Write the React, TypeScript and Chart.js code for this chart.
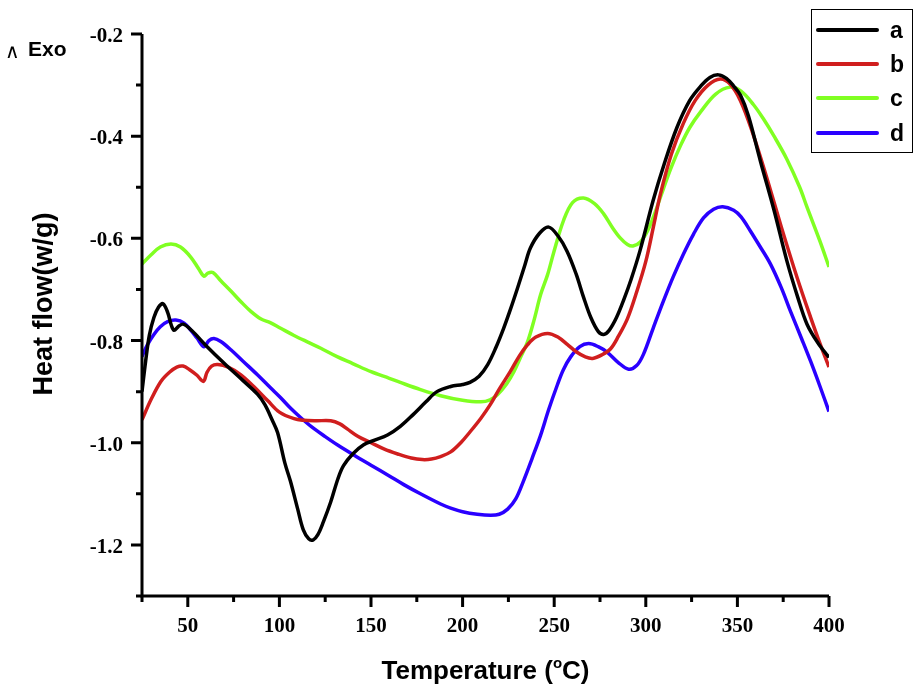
import React, { useEffect, useRef } from "react";
import { Chart, registerables } from "chart.js";

Chart.register(...registerables);

// ---- Data ----
const seriesLabels = ["a", "b", "c", "d"];
const seriesColors = ["#000000", "#D01E1E", "#80FF22", "#2A00FF"];

const xA = [25, 27, 29, 31.5, 34, 36.5, 39, 41, 42.5, 45, 47.5, 52, 60, 70, 80, 88, 92, 96, 99, 103, 106, 110, 113, 116, 118.5, 121, 124, 128, 132, 135, 140, 146, 152, 159, 166, 173, 180, 186, 193.5, 200, 204, 209, 213.7, 218, 222.4, 226, 230, 234, 237, 242, 247, 252, 257, 262, 266, 270, 274, 277, 280, 284, 288, 292, 297, 304, 310, 317, 324, 330, 335, 339.7, 344, 348, 351.7, 356, 362.5, 370, 377, 383, 388, 394, 400];
const yA = [-0.9, -0.84, -0.79, -0.755, -0.735, -0.728, -0.745, -0.77, -0.78, -0.772, -0.768, -0.78, -0.81, -0.845, -0.878, -0.905, -0.925, -0.955, -0.98, -1.04, -1.075, -1.13, -1.17, -1.188, -1.19, -1.18, -1.155, -1.116, -1.07, -1.045, -1.022, -1.004, -0.995, -0.985, -0.968, -0.945, -0.92, -0.9, -0.89, -0.886, -0.882, -0.87, -0.847, -0.815, -0.776, -0.74, -0.697, -0.652, -0.619, -0.59, -0.578, -0.595, -0.625, -0.67, -0.715, -0.755, -0.782, -0.788, -0.78, -0.755, -0.72, -0.68, -0.622, -0.526, -0.455, -0.383, -0.33, -0.302, -0.285, -0.28, -0.287, -0.302, -0.32, -0.36, -0.448, -0.545, -0.644, -0.716, -0.768, -0.805, -0.833];

const xB = [25, 30, 35.3, 40, 44, 47.4, 51, 55, 58.5, 60.5, 63, 66.4, 72, 79, 86, 93.7, 100, 108, 113, 120, 128, 133, 137, 143, 150, 157, 164.6, 172, 178, 183, 188, 193.5, 199, 204, 210, 215, 220, 226, 231, 235.5, 240, 246.4, 252, 257.3, 262, 267, 271, 276, 280.8, 285, 290, 295, 300, 304, 308, 314, 320.5, 327, 334, 340.7, 346, 351.6, 358, 366, 374, 382.7, 390, 395, 400];
const yB = [-0.955, -0.915, -0.88, -0.862, -0.852, -0.85, -0.857, -0.868, -0.88, -0.862, -0.85, -0.847, -0.852, -0.867, -0.89, -0.918, -0.94, -0.953, -0.956, -0.957, -0.957, -0.963, -0.973, -0.988, -1.0, -1.012, -1.022, -1.03, -1.033, -1.032, -1.027, -1.018, -1.0, -0.979, -0.952, -0.926, -0.895, -0.861, -0.83, -0.808, -0.793, -0.786, -0.793, -0.808, -0.822, -0.832, -0.835, -0.828, -0.816, -0.792, -0.757, -0.705, -0.645, -0.58, -0.513, -0.435, -0.375, -0.33, -0.3, -0.288, -0.298, -0.33, -0.39, -0.481, -0.578, -0.678, -0.755, -0.805, -0.852];

const xC = [25, 30, 35, 40.8, 46, 51.7, 56, 58.8, 61, 63.7, 68, 73.5, 79, 84.4, 90, 95, 100.7, 108, 115.5, 122.6, 131.8, 140, 150, 160, 166, 177, 188, 200, 210, 215, 219, 224, 228, 232, 235.5, 239, 242.6, 246.4, 249.7, 255, 260, 266, 272, 277, 282, 286, 290, 293, 297, 301, 305, 309.6, 314, 319, 324, 330, 338, 346, 352, 358.7, 364, 370, 377, 384, 388, 395, 400];
const yC = [-0.65, -0.632, -0.617, -0.611, -0.617, -0.637, -0.66, -0.674, -0.668, -0.667, -0.683, -0.703, -0.724, -0.743, -0.758, -0.765, -0.776, -0.79, -0.803, -0.815, -0.832, -0.845, -0.861, -0.874, -0.882, -0.896, -0.908, -0.917, -0.92, -0.916, -0.906, -0.885, -0.861, -0.83, -0.802, -0.76, -0.71, -0.671, -0.628, -0.566, -0.53, -0.521, -0.532, -0.552, -0.58, -0.599, -0.612, -0.615, -0.607, -0.585, -0.55, -0.503, -0.46, -0.418, -0.383, -0.352, -0.318, -0.304, -0.312, -0.338, -0.365, -0.4, -0.445, -0.5, -0.539, -0.605, -0.656];

const xD = [25, 28, 31.5, 35, 39, 43.5, 48, 51.7, 55, 58.8, 61.5, 64.3, 68, 73.5, 80, 88, 95, 100.7, 106, 111.7, 118, 125, 132, 140.6, 150, 160, 167.9, 177, 188, 193.5, 200, 208, 215.3, 220, 224.6, 229, 233, 238, 242.6, 247, 251.8, 255, 259, 264, 268.8, 274, 279, 285, 290.6, 295, 298.7, 304, 309.6, 315, 320.5, 326, 331.5, 337, 342, 348, 352, 357, 362, 368, 374, 379, 385, 390, 395, 400];
const yD = [-0.831, -0.808, -0.788, -0.773, -0.763, -0.76, -0.766, -0.78, -0.795, -0.812, -0.8, -0.796, -0.802, -0.818, -0.84, -0.867, -0.892, -0.912, -0.932, -0.951, -0.97, -0.988, -1.005, -1.024, -1.044, -1.065, -1.082, -1.1, -1.12, -1.128, -1.135, -1.14, -1.142, -1.14, -1.13, -1.11, -1.077, -1.03, -0.985, -0.935, -0.886, -0.857, -0.832, -0.812, -0.806, -0.812, -0.823, -0.843, -0.856, -0.849, -0.827, -0.776, -0.723, -0.675, -0.631, -0.592, -0.56, -0.543, -0.538, -0.545, -0.558, -0.585, -0.614, -0.65, -0.697, -0.743, -0.796, -0.841, -0.889, -0.939];

const xTicks = [50, 100, 150, 200, 250, 300, 350, 400];
const xMinorTicks = [25, 75, 125, 175, 225, 275, 325, 375];
const yTicks = [-1.2, -1.0, -0.8, -0.6, -0.4, -0.2];
const yMinorTicks = [-1.3, -1.1, -0.9, -0.7, -0.5, -0.3];

const xTitleMain = "Temperature (";
const xTitleSup = "o";
const xTitleEnd = "C)";
const yTitle = "Heat flow(w/g)";
const exoMark = "\u2227";
const exoText = "Exo";

const toPoints = (xs: number[], ys: number[]) => xs.map((x, i) => ({ x, y: ys[i] }));

const customAxes = {
  id: "customAxes",
  afterDraw(chart: any) {
    const { ctx, chartArea: ca, scales } = chart;
    const xs = scales.x;
    const ys = scales.y;
    ctx.save();
    ctx.strokeStyle = "#000";
    ctx.fillStyle = "#000";
    ctx.lineWidth = 3;
    ctx.lineJoin = "miter";
    ctx.lineCap = "butt";

    // axis lines
    ctx.beginPath();
    ctx.moveTo(ca.left, ca.top);
    ctx.lineTo(ca.left, ca.bottom);
    ctx.lineTo(ca.right, ca.bottom);
    ctx.stroke();

    // ticks
    ctx.beginPath();
    yTicks.forEach((v) => {
      const p = ys.getPixelForValue(v);
      ctx.moveTo(ca.left - 11, p);
      ctx.lineTo(ca.left, p);
    });
    yMinorTicks.forEach((v) => {
      const p = ys.getPixelForValue(v);
      ctx.moveTo(ca.left - 6, p);
      ctx.lineTo(ca.left, p);
    });
    xTicks.forEach((v) => {
      const p = xs.getPixelForValue(v);
      ctx.moveTo(p, ca.bottom);
      ctx.lineTo(p, ca.bottom + 11);
    });
    xMinorTicks.forEach((v) => {
      const p = xs.getPixelForValue(v);
      ctx.moveTo(p, ca.bottom);
      ctx.lineTo(p, ca.bottom + 6);
    });
    ctx.stroke();

    // tick labels
    ctx.font = "bold 21px 'Liberation Serif', 'Times New Roman', serif";
    ctx.textAlign = "right";
    ctx.textBaseline = "alphabetic";
    yTicks.forEach((v) => {
      const p = ys.getPixelForValue(v);
      ctx.fillText(v.toFixed(1), ca.left - 19, p + 8);
    });
    ctx.textAlign = "center";
    xTicks.forEach((v) => {
      const p = xs.getPixelForValue(v);
      ctx.fillText(String(v), p, ca.bottom + 36);
    });

    // x title with superscript
    const titleFont = "bold 26px 'Liberation Sans', Arial, sans-serif";
    const supFont = "bold 15px 'Liberation Sans', Arial, sans-serif";
    ctx.font = titleFont;
    const w1 = ctx.measureText(xTitleMain).width;
    const w3 = ctx.measureText(xTitleEnd).width;
    ctx.font = supFont;
    const w2 = ctx.measureText(xTitleSup).width;
    const total = w1 + w2 + w3;
    const cx = (ca.left + ca.right) / 2;
    let tx = cx - total / 2;
    const baseY = 679;
    ctx.textAlign = "left";
    ctx.font = titleFont;
    ctx.fillText(xTitleMain, tx, baseY);
    tx += w1;
    ctx.font = supFont;
    ctx.fillText(xTitleSup, tx, baseY - 11);
    tx += w2;
    ctx.font = titleFont;
    ctx.fillText(xTitleEnd, tx, baseY);

    // y title
    ctx.save();
    ctx.translate(52, 304);
    ctx.rotate(-Math.PI / 2);
    ctx.font = "bold 27px 'Liberation Sans', Arial, sans-serif";
    ctx.textAlign = "center";
    ctx.textBaseline = "alphabetic";
    ctx.fillText(yTitle, 0, 0);
    ctx.restore();

    // Exo marker
    ctx.textAlign = "left";
    ctx.font = "20px 'DejaVu Sans', sans-serif";
    ctx.fillText(exoMark, 5, 58);
    ctx.font = "bold 21px 'Liberation Sans', Arial, sans-serif";
    ctx.fillText(exoText, 28, 56);

    // legend
    ctx.lineWidth = 1;
    ctx.strokeStyle = "#000";
    ctx.strokeRect(811.5, 9.5, 101, 143);
    const rows = [30, 64, 98, 133];
    ctx.font = "bold 23px 'Liberation Sans', Arial, sans-serif";
    chart.data.datasets.forEach((ds: any, i: number) => {
      ctx.strokeStyle = ds.borderColor;
      ctx.lineWidth = 4;
      ctx.lineCap = "round";
      ctx.beginPath();
      ctx.moveTo(818, rows[i]);
      ctx.lineTo(877, rows[i]);
      ctx.stroke();
      ctx.fillStyle = "#000";
      ctx.fillText(ds.label, 890, rows[i] + 8);
    });
    ctx.restore();
  },
};

export default function App() {
  const canvasRef = useRef<HTMLCanvasElement | null>(null);

  useEffect(() => {
    if (!canvasRef.current) return;
    const xsAll = [xA, xB, xC, xD];
    const ysAll = [yA, yB, yC, yD];
    const chart = new Chart(canvasRef.current, {
      type: "line",
      data: {
        datasets: seriesLabels.map((label, i) => ({
          label,
          data: toPoints(xsAll[i], ysAll[i]),
          borderColor: seriesColors[i],
          backgroundColor: seriesColors[i],
          borderWidth: 3.5,
          pointRadius: 0,
          fill: false,
          tension: 0.35,
        })),
      },
      options: {
        animation: false,
        responsive: false,
        devicePixelRatio: 1,
        layout: { padding: { left: 142, top: 34, right: 85, bottom: 88 } },
        scales: {
          x: { type: "linear", min: 25, max: 400, display: false },
          y: { type: "linear", min: -1.3, max: -0.2, display: false },
        },
        plugins: {
          legend: { display: false },
          tooltip: { enabled: false },
        },
        events: [],
      },
      plugins: [customAxes],
    } as any);
    return () => chart.destroy();
  }, []);

  return (
    <div style={{ position: "absolute", left: 0, top: 0, width: 914, height: 684, background: "#fff" }}>
      <canvas ref={canvasRef} width={914} height={684} style={{ display: "block" }} />
    </div>
  );
}
